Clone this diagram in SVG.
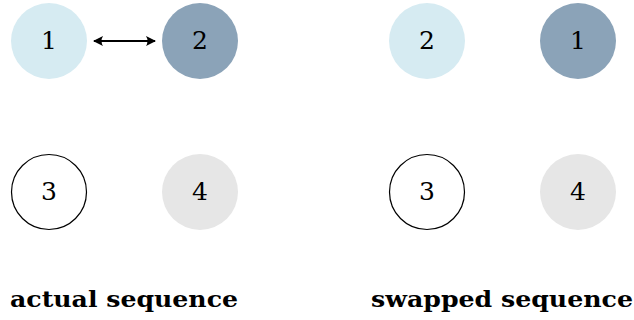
<svg xmlns="http://www.w3.org/2000/svg" width="634" height="320" viewBox="0 0 634 320">
  <style>
    .num { font-size: 25px; text-anchor: middle; fill: #000; }
    .lbl { font-size: 23px; font-weight: bold; fill: #000; }
    .light { fill: #d6ebf2; }
    .dark { fill: #8ba3b8; }
    .grey { fill: #e6e6e6; }
    .open { fill: #fff; stroke: #000; stroke-width: 1.2; }
    .link { stroke: #000; stroke-width: 2; fill: none; }
  </style>
  <defs>
    <marker id="tip" viewBox="0 0 10 10" refX="9" refY="5" markerWidth="5" markerHeight="5" orient="auto-start-reverse" markerUnits="strokeWidth">
      <path d="M0,0 Q3,5 0,10 L10,5 Z" fill="#000"/>
    </marker>
  </defs>

  <g font-family="DejaVu Serif, serif">
    <!-- actual sequence -->
    <g id="a1"><circle class="light" cx="49" cy="41" r="38"/><text class="num" x="49" y="49">1</text></g>
    <g id="a2"><circle class="dark" cx="200" cy="41" r="38"/><text class="num" x="200" y="49">2</text></g>
    <g id="a3"><circle class="open" cx="49" cy="192" r="37.5"/><text class="num" x="49" y="200">3</text></g>
    <g id="a4"><circle class="grey" cx="200" cy="192" r="38"/><text class="num" x="200" y="200">4</text></g>

    <!-- swapped sequence -->
    <g id="s2"><circle class="light" cx="427" cy="41" r="38"/><text class="num" x="427" y="49">2</text></g>
    <g id="s1"><circle class="dark" cx="578" cy="41" r="38"/><text class="num" x="578" y="49">1</text></g>
    <g id="s3"><circle class="open" cx="427" cy="192" r="37.5"/><text class="num" x="427" y="200">3</text></g>
    <g id="s4"><circle class="grey" cx="578" cy="192" r="38"/><text class="num" x="578" y="200">4</text></g>

    <g id="connectors">
      <line class="link" x1="94" y1="41" x2="155" y2="41" marker-start="url(#tip)" marker-end="url(#tip)"/>
    </g>

    <text class="lbl" x="10" y="307" textLength="228" lengthAdjust="spacingAndGlyphs">actual sequence</text>
    <text class="lbl" x="371" y="307" textLength="262" lengthAdjust="spacingAndGlyphs">swapped sequence</text>
  </g>
</svg>
